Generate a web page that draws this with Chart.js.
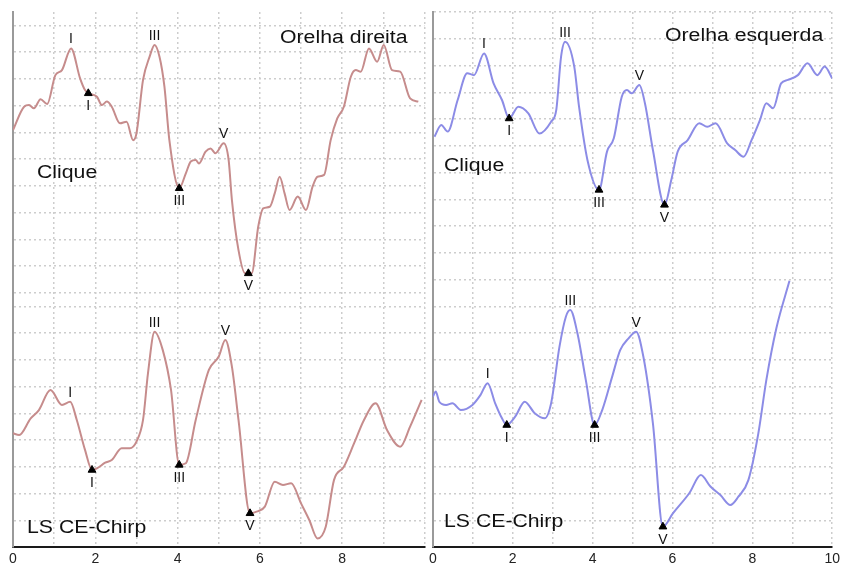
<!DOCTYPE html>
<html><head><meta charset="utf-8">
<script src="https://cdn.jsdelivr.net/npm/chart.js@4.4.1/dist/chart.umd.min.js"></script>
<style>
html,body{margin:0;padding:0;background:#fff;}
#wrap{position:relative;width:844px;height:568px;overflow:hidden;background:#fff;}
#left{position:absolute;left:0;top:0;}
#right{position:absolute;left:425px;top:0;}
</style></head><body>
<div id="wrap"><canvas id="left" width="430" height="568"></canvas><canvas id="right" width="419" height="568"></canvas></div>
<script>
// ---- data (x: ms, y: display units) ----
const timeTicks = [0,1,2,3,4,5,6,7,8,9,10];
const tickLabelsLeft = ['0','','2','','4','','6','','8','',''];
const tickLabelsRight = ['0','','2','','4','','6','','8','','10'];

const rightEarClick = [[0,15.59],[0.27,16.46],[0.39,16.52],[0.51,16.40],[0.67,16.74],[0.83,16.56],[1.03,17.64],[1.19,17.83],[1.41,18.64],[1.63,17.52],[1.75,17.08],[1.83,16.96],[2.04,16.83],[2.16,16.52],[2.28,16.65],[2.40,16.46],[2.60,15.84],[2.76,15.90],[2.92,15.21],[3.00,15.46],[3.16,17.46],[3.32,18.33],[3.44,18.77],[3.56,18.33],[3.68,17.21],[3.80,15.21],[4.04,13.41],[4.20,13.97],[4.32,14.41],[4.44,14.47],[4.52,14.34],[4.68,14.78],[4.80,14.90],[4.92,14.72],[5.12,15.09],[5.24,14.47],[5.32,12.97],[5.48,11.10],[5.64,10.23],[5.80,10.23],[5.96,11.98],[6.08,12.66],[6.24,12.72],[6.36,13.22],[6.48,13.84],[6.60,13.22],[6.72,12.60],[6.92,13.10],[7.12,12.60],[7.28,13.47],[7.40,13.84],[7.56,13.91],[7.72,15.21],[7.88,16.02],[8.04,16.46],[8.21,17.58],[8.33,17.83],[8.45,17.77],[8.65,18.64],[8.85,18.14],[9.01,18.77],[9.21,17.83],[9.41,17.77],[9.65,16.77],[9.85,16.65]];
const rightEarChirp = [[0,4.25],[0.15,4.19],[0.43,4.81],[0.63,5.12],[0.91,5.87],[1.19,5.31],[1.39,5.43],[1.55,4.75],[1.75,3.63],[1.92,2.88],[2.04,2.94],[2.24,3.15],[2.40,3.25],[2.64,3.69],[2.84,3.69],[3.00,3.94],[3.16,4.75],[3.28,6.49],[3.44,8.05],[3.64,7.36],[3.84,5.87],[4.04,3.07],[4.20,3.13],[4.44,4.75],[4.76,6.62],[5.00,7.12],[5.16,7.74],[5.32,6.74],[5.48,4.75],[5.76,1.26],[5.92,1.32],[6.12,1.51],[6.36,2.44],[6.56,2.32],[6.76,2.38],[7.00,1.63],[7.20,1.01],[7.40,0.32],[7.60,0.76],[7.80,2.50],[8.04,3.00],[8.29,3.88],[8.53,4.75],[8.81,5.37],[9.09,4.37],[9.41,3.75],[9.65,4.50],[9.93,5.50]];
const leftEarClick = [[0.04,15.34],[0.21,15.78],[0.37,15.53],[0.62,16.71],[0.86,17.71],[1.03,17.64],[1.28,18.45],[1.52,17.33],[1.73,16.71],[1.91,16.02],[2.14,16.46],[2.39,16.21],[2.67,15.46],[2.96,15.90],[3.09,16.34],[3.21,18.33],[3.31,18.89],[3.54,17.96],[3.66,16.46],[3.87,14.47],[4.16,13.35],[4.36,14.78],[4.53,15.28],[4.73,16.83],[4.86,17.08],[4.98,16.96],[5.17,17.27],[5.31,16.59],[5.51,14.84],[5.80,12.79],[5.97,13.72],[6.13,14.78],[6.38,15.21],[6.67,15.84],[6.87,15.71],[7.08,15.84],[7.37,15.09],[7.57,14.84],[7.78,14.59],[7.98,15.21],[8.19,15.96],[8.35,16.59],[8.52,16.40],[8.72,17.33],[8.89,17.46],[9.14,17.64],[9.38,18.08],[9.63,17.64],[9.81,17.96],[10.0,17.52]];
const leftEarChirp = [[0,5.62],[0.07,5.81],[0.16,5.43],[0.33,5.31],[0.49,5.37],[0.70,5.12],[0.99,5.31],[1.19,5.68],[1.37,6.12],[1.56,5.37],[1.73,4.81],[1.85,4.56],[2.06,4.87],[2.30,5.43],[2.55,5.00],[2.80,4.81],[2.96,5.37],[3.17,7.49],[3.33,8.61],[3.44,8.86],[3.62,7.99],[3.83,6.24],[4.05,4.56],[4.24,5.12],[4.49,6.37],[4.69,7.36],[4.90,7.80],[5.09,8.05],[5.27,7.12],[5.51,4.62],[5.76,0.76],[6.01,1.26],[6.42,2.01],[6.71,2.69],[6.95,2.26],[7.20,1.94],[7.45,1.57],[7.65,1.88],[7.90,2.50],[8.15,4.25],[8.35,6.24],[8.60,8.17],[8.93,9.95]];

const rightPeaks = [['I',1.41,18.64],['III',3.44,18.77],['V',5.12,15.09],['I',1.39,5.43],['III',3.44,8.05],['V',5.16,7.74]];
const rightTroughs = [['I',1.83,16.96],['III',4.04,13.41],['V',5.72,10.23],['I',1.92,2.88],['III',4.04,3.07],['V',5.76,1.26]];
const leftPeaks = [['I',1.28,18.45],['III',3.31,18.89],['V',5.17,17.27],['I',1.37,6.12],['III',3.44,8.86],['V',5.09,8.05]];
const leftTroughs = [['I',1.91,16.02],['III',4.16,13.35],['V',5.80,12.79],['I',1.85,4.56],['III',4.05,4.56],['V',5.76,0.76]];

const gridLeftPanel = [1,2,3,4,5,6,7,8,9,9.5,10.5,11.5,12.5,13.5,14.5,15.5,16.5,17.5,18.5,19.5];
const gridRightPanel = [1,2,3,4,5,6,7,8,9,10,11,12,13,14,15,16,17,18,19,20];

const FONT = '"Liberation Sans", Arial, Helvetica, sans-serif';

function labelPlugin(peaks, troughs, titles) {
  return {
    id: 'abrLabels',
    afterDatasetsDraw(chart) {
      const {ctx, scales: {x, y}} = chart;
      ctx.save();
      ctx.fillStyle = '#111';
      ctx.textAlign = 'center';
      ctx.textBaseline = 'alphabetic';
      ctx.font = '14px ' + FONT;
      peaks.forEach(([t, vx, vy]) => ctx.fillText(t, x.getPixelForValue(vx), y.getPixelForValue(vy) - 5));
      troughs.forEach(([t, vx, vy]) => ctx.fillText(t, x.getPixelForValue(vx), y.getPixelForValue(vy) + 17));
      ctx.textAlign = 'left';
      ctx.font = '18px ' + FONT;
      titles.forEach(([t, px, py]) => {
        ctx.save(); ctx.translate(px, py); ctx.scale(1.18, 1); ctx.fillText(t, 0, 0); ctx.restore();
      });
      ctx.restore();
    }
  };
}

function makeChart(id, color, top, bottom, peaks, troughs, tickLabels, grid, pad, titles) {
  const pts = a => a.map(([x, y]) => ({x, y}));
  return new Chart(document.getElementById(id), {
    type: 'line',
    data: {
      datasets: [
        {data: pts(top), borderColor: color, borderWidth: 2, pointRadius: 0, cubicInterpolationMode: 'monotone', fill: false, order: 1},
        {data: pts(bottom), borderColor: color, borderWidth: 2, pointRadius: 0, cubicInterpolationMode: 'monotone', fill: false, order: 1},
        {type: 'scatter', data: troughs.map(([t, x, y]) => ({x, y})), pointStyle: 'triangle', pointRadius: 4.5, backgroundColor: '#000', borderColor: '#000', borderWidth: 1, order: -1}
      ]
    },
    options: {
      responsive: false, animation: false, devicePixelRatio: 1,
      layout: {padding: pad},
      plugins: {legend: {display: false}, tooltip: {enabled: false}},
      scales: {
        x: {
          type: 'linear', min: 0, max: 10,
          afterBuildTicks: s => { s.ticks = timeTicks.map(v => ({value: v})); },
          afterFit: s => { s.height = 21; },
          ticks: {autoSkip: false, maxRotation: 0, padding: 4, color: '#222', font: {size: 14, family: FONT},
            callback: (v, i) => tickLabels[i]},
          grid: {color: '#cdcdcd', lineWidth: 1.5, drawTicks: false},
          border: {display: true, color: '#1a1a1a', width: 2, dash: [2, 3]}
        },
        y: {
          min: 0, max: 20,
          afterBuildTicks: s => { s.ticks = grid.map(v => ({value: v})); },
          afterFit: s => { s.width = 0; },
          ticks: {display: false},
          grid: {color: '#cdcdcd', lineWidth: 1.5, drawTicks: false},
          border: {display: true, color: '#9a9a9a', width: 2, dash: [2, 3]}
        }
      }
    },
    plugins: [labelPlugin(peaks, troughs, titles)]
  });
}

makeChart('left', '#c68c8c', rightEarClick, rightEarChirp, rightPeaks, rightTroughs, tickLabelsLeft, gridLeftPanel,
  {left: 13, right: 2, top: 12, bottom: 0},
  [['Orelha direita', 280, 43], ['Clique', 37, 178], ['LS CE-Chirp', 27, 533]]);
makeChart('right', '#8c8ce6', leftEarClick, leftEarChirp, leftPeaks, leftTroughs, tickLabelsRight, gridRightPanel,
  {left: 5, right: 9, top: 12, bottom: 0},
  [['Orelha esquerda', 240, 41], ['Clique', 19, 171], ['LS CE-Chirp', 19, 527]]);
</script>
</body></html>
